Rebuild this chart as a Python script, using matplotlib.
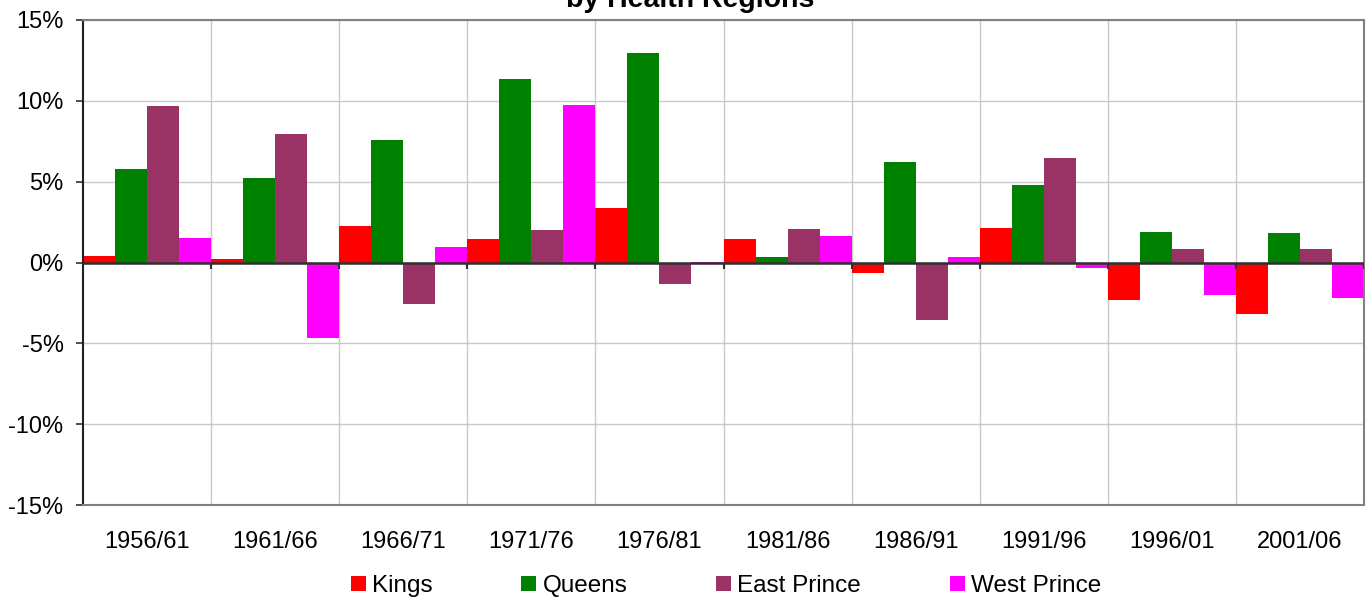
import numpy as np
import matplotlib
matplotlib.use("Agg")
import matplotlib.pyplot as plt
from matplotlib.ticker import FuncFormatter

plt.rcParams["font.family"] = ["Liberation Sans", "DejaVu Sans"]
plt.rcParams["axes.unicode_minus"] = False

# data (percent change)
periods = ["1956/61", "1961/66", "1966/71", "1971/76", "1976/81",
           "1981/86", "1986/91", "1991/96", "1996/01", "2001/06"]
kings = [0.43, 0.19, 2.28, 1.48, 3.40, 1.48, -0.62, 2.16, -2.35, -3.21]
queens = [5.80, 5.25, 7.59, 11.36, 12.96, 0.31, 6.23, 4.81, 1.91, 1.85]
east_prince = [9.70, 7.96, -2.59, 2.04, -1.36, 2.10, -3.58, 6.48, 0.86, 0.86]
west_prince = [1.54, -4.69, 0.93, 9.75, 0.05, 1.67, 0.31, -0.37, -2.02, -2.22]

series = [("Kings", kings, "#FF0000"),
          ("Queens", queens, "#008000"),
          ("East Prince", east_prince, "#993366"),
          ("West Prince", west_prince, "#FF00FF")]

W, H = 1366, 597
fig = plt.figure(figsize=(W / 100, H / 100), dpi=100)
ax = fig.add_axes([83 / W, (H - 505) / H, (1364 - 83) / W, (505 - 20) / H])

x = np.arange(len(periods))
width = 0.25
for i, (name, vals, col) in enumerate(series):
    ax.bar(x + (i - 1.5) * width, vals, width, color=col, label=name, zorder=2)

ax.set_xlim(-0.5, len(periods) - 0.5)
ax.set_ylim(-15, 15)
ax.set_yticks(np.arange(-15, 16, 5))
ax.yaxis.set_major_formatter(FuncFormatter(lambda v, p: f"{v:.0f}%"))
ax.set_xticks(x)
ax.set_xticklabels(periods)
bounds = x[:-1] + 0.5
ax.set_xticks(bounds, minor=True)

ax.grid(True, which="major", axis="y", color="#C8C8C8", lw=1, zorder=0)
ax.grid(True, which="minor", axis="x", color="#C8C8C8", lw=1, zorder=0)
ax.tick_params(axis="x", which="both", length=0, labelsize=17, pad=19)
ax.tick_params(axis="y", length=5, width=1.2, color="#303030", labelsize=17, pad=9)

# zero line and its category tick marks
ax.axhline(0, color="#303030", lw=1.8, zorder=3)
ax.vlines(np.append(bounds, len(periods) - 0.5), -0.4, 0, color="#303030", lw=1.5, zorder=3)

for s in ["top", "right", "bottom"]:
    ax.spines[s].set_color("#808080")
    ax.spines[s].set_linewidth(1.5)
ax.spines["left"].set_color("#202020")
ax.spines["left"].set_linewidth(1.5)

fig.text(690 / W, 1 - 7 / H, "Population Change\nby Health Regions", ha="center",
         va="baseline", fontsize=20.5, fontweight="bold")

fig.legend(loc="center", bbox_to_anchor=(726 / W, 11 / H), ncol=4, frameon=False,
           fontsize=17.5, handlelength=0.62, handleheight=0.62, handletextpad=0.25,
           columnspacing=3.65, borderpad=0)

fig.savefig("out.png", dpi=100)
